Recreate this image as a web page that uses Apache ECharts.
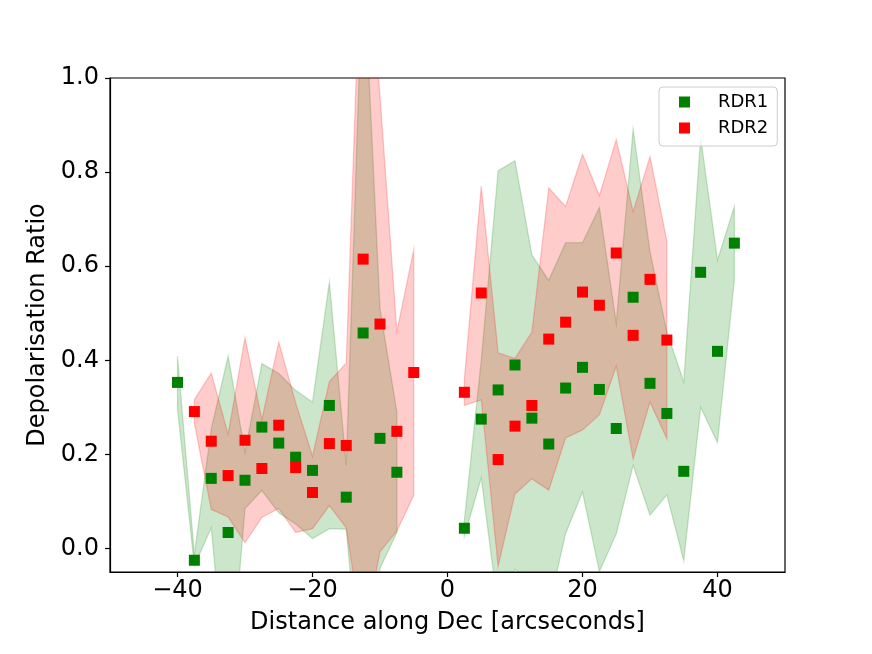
<!DOCTYPE html>
<html>
<head>
<meta charset="utf-8">
<script src="https://cdn.jsdelivr.net/npm/echarts@6/dist/echarts.min.js"></script>
<style>
html, body { margin: 0; padding: 0; background: #fff; }
#container { width: 872px; height: 654px; }
</style>
</head>
<body>
<div id="container"></div>
<script>
var xTicks = [-40, -20, 0, 20, 40];
var yTicks = [0, 0.2, 0.4, 0.6, 0.8, 1.0];

// RDR1 - south part
var rdr1DistS = [-40, -37.5, -35, -32.5, -30, -27.5, -25, -22.5, -20, -17.5, -15, -12.5, -10, -7.5];
var rdr1ValS  = [0.353, -0.025, 0.149, 0.034, 0.145, 0.258, 0.224, 0.194, 0.166, 0.304, 0.109, 0.458, 0.234, 0.162];
var rdr1ErrS  = [0.056, 0.012, 0.105, 0.375, 0.060, 0.135, 0.148, 0.142, 0.145, 0.262, 0.068, 0.810, 0.276, 0.128];
// RDR1 - north part
var rdr1DistN = [2.5, 5, 7.5, 10, 12.5, 15, 17.5, 20, 22.5, 25, 27.5, 30, 32.5, 35, 37.5, 40, 42.5];
var rdr1ValN  = [0.043, 0.275, 0.337, 0.390, 0.277, 0.222, 0.341, 0.385, 0.338, 0.255, 0.534, 0.351, 0.287, 0.164, 0.587, 0.419, 0.649];
var rdr1ErrN  = [0.017, 0.125, 0.466, 0.434, 0.347, 0.348, 0.309, 0.265, 0.387, 0.224, 0.357, 0.280, 0.173, 0.190, 0.287, 0.194, 0.078];

// RDR2 - south part
var rdr2DistS = [-37.5, -35, -32.5, -30, -27.5, -25, -22.5, -20, -17.5, -15, -12.5, -10, -7.5, -5];
var rdr2ValS  = [0.291, 0.228, 0.155, 0.230, 0.170, 0.262, 0.172, 0.119, 0.223, 0.219, 0.615, 0.477, 0.249, 0.374];
var rdr2ErrS  = [0.025, 0.145, 0.088, 0.218, 0.104, 0.177, 0.138, 0.077, 0.132, 0.175, 0.810, 0.484, 0.212, 0.261];
// RDR2 - north part
var rdr2DistN = [2.5, 5, 7.5, 10, 12.5, 15, 17.5, 20, 22.5, 25, 27.5, 30, 32.5];
var rdr2ValN  = [0.332, 0.543, 0.189, 0.260, 0.304, 0.445, 0.481, 0.545, 0.517, 0.628, 0.453, 0.572, 0.443];
var rdr2ErrN  = [0.028, 0.227, 0.227, 0.144, 0.156, 0.321, 0.246, 0.293, 0.233, 0.241, 0.263, 0.261, 0.210];

var FONT = 'DejaVu Sans';

function points(dist, val) {
    var out = [];
    for (var i = 0; i < dist.length; i++) out.push([dist[i], val[i]]);
    return out;
}

// shaded +/- err band, drawn as one polygon (like fill_between)
function bandSeries(dist, val, err, rgb) {
    var data = [];
    for (var i = 0; i < dist.length; i++) {
        data.push([dist[i], val[i] - err[i], val[i] + err[i]]);
    }
    return {
        type: 'custom', clip: true, silent: true, z: 1,
        data: data,
        encode: { x: 0, y: [1, 2] },
        renderItem: function (params, api) {
            if (params.dataIndex !== 0) return;
            var pts = [];
            for (var i = 0; i < data.length; i++) pts.push(api.coord([data[i][0], data[i][1]]));
            for (var j = data.length - 1; j >= 0; j--) pts.push(api.coord([data[j][0], data[j][2]]));
            return {
                type: 'polygon',
                shape: { points: pts },
                style: {
                    fill: 'rgba(' + rgb + ',0.2)',
                    stroke: 'rgba(' + rgb + ',0.2)',
                    lineWidth: 1.3
                }
            };
        }
    };
}

var series = [
    bandSeries(rdr1DistS, rdr1ValS, rdr1ErrS, '0,128,0'),
    bandSeries(rdr1DistN, rdr1ValN, rdr1ErrN, '0,128,0'),
    bandSeries(rdr2DistS, rdr2ValS, rdr2ErrS, '255,0,0'),
    bandSeries(rdr2DistN, rdr2ValN, rdr2ErrN, '255,0,0'),
    {
        name: 'RDR1', type: 'scatter', symbol: 'rect', symbolSize: 11, z: 5,
        data: points(rdr1DistS, rdr1ValS).concat(points(rdr1DistN, rdr1ValN)),
        itemStyle: { color: '#008000', opacity: 1 }
    },
    {
        name: 'RDR2', type: 'scatter', symbol: 'rect', symbolSize: 11, z: 5,
        data: points(rdr2DistS, rdr2ValS).concat(points(rdr2DistN, rdr2ValN)),
        itemStyle: { color: '#ff0000', opacity: 1 }
    }
];

var myChart = echarts.init(document.getElementById('container'), null, { renderer: 'canvas' });
var option = {
    animation: false,
    backgroundColor: '#fff',
    textStyle: { fontFamily: FONT },
    grid: {
        left: 110, right: 87, top: 78, bottom: 82,
        show: true, borderColor: '#000', borderWidth: 1.2, backgroundColor: '#fff'
    },
    legend: {
        data: ['RDR1', 'RDR2'],
        orient: 'vertical',
        left: 659, top: 87,
        padding: [6, 9, 9, 20],
        itemGap: 8,
        itemWidth: 11, itemHeight: 11,
        backgroundColor: 'rgba(255,255,255,0.8)',
        borderColor: '#cccccc', borderWidth: 1, borderRadius: 4,
        textStyle: { fontFamily: FONT, fontSize: 18, color: '#000', padding: [0, 0, 0, 23] }
    },
    xAxis: {
        type: 'value', min: -50, max: 50,
        name: 'Distance along Dec [arcseconds]',
        nameLocation: 'middle', nameGap: 39,
        nameTextStyle: { fontFamily: FONT, fontSize: 24, color: '#000' },
        axisLine: { onZero: false, lineStyle: { color: '#000', width: 1.2 } },
        axisTick: { length: 5, lineStyle: { color: '#000', width: 1.2 }, customValues: xTicks },
        axisLabel: {
            customValues: xTicks, margin: 7,
            fontFamily: FONT, fontSize: 24, color: '#000',
            formatter: function (v) { return String(v).replace('-', '\u2212'); }
        },
        splitLine: { show: false }
    },
    yAxis: {
        type: 'value', min: -0.05, max: 1.0,
        name: 'Depolarisation Ratio',
        nameLocation: 'middle', nameGap: 53,
        nameTextStyle: { fontFamily: FONT, fontSize: 24, color: '#000' },
        axisLine: { show: true, onZero: false, lineStyle: { color: '#000', width: 1.2 } },
        axisTick: { show: true, length: 5, lineStyle: { color: '#000', width: 1.2 }, customValues: yTicks },
        axisLabel: {
            customValues: yTicks, margin: 11,
            fontFamily: FONT, fontSize: 24, color: '#000',
            formatter: function (v) { return v.toFixed(1); }
        },
        splitLine: { show: false }
    },
    series: series
};
myChart.setOption(option);
</script>
</body>
</html>
